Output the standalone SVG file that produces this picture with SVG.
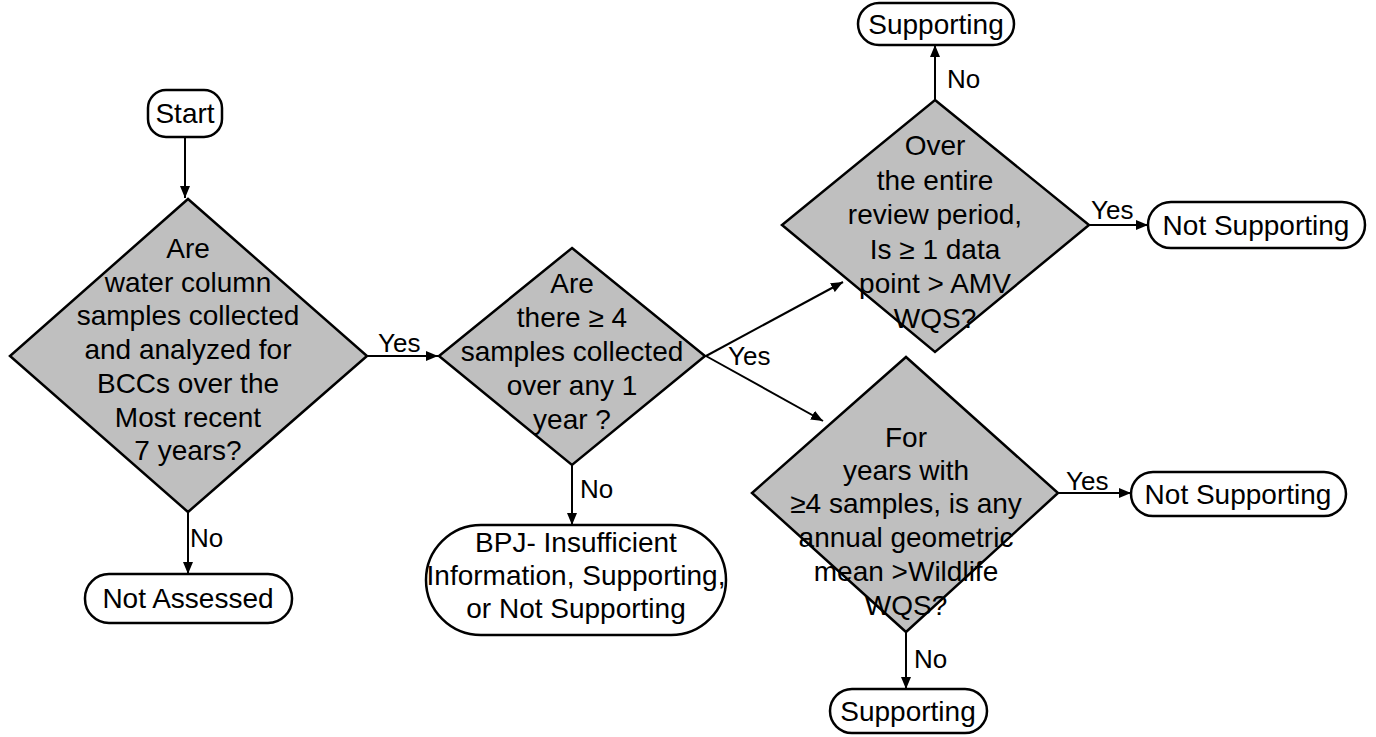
<svg xmlns="http://www.w3.org/2000/svg" width="1376" height="737" viewBox="0 0 1376 737">
<style>
text{font-family:"Liberation Sans",Arial,sans-serif;fill:#000}
.t{font-size:28px;text-anchor:middle}
.l{font-size:26px}
.term{fill:#fff;stroke:#000;stroke-width:2.5}
.dec{fill:#bfbfbf;stroke:#000;stroke-width:2.5}
.c{stroke:#000;stroke-width:2;fill:none;marker-end:url(#ah)}
</style>
<defs>
<marker id="ah" viewBox="0 0 12 10" refX="12" refY="5" markerWidth="12" markerHeight="10" markerUnits="userSpaceOnUse" orient="auto">
<path d="M0,0 L12,5 L0,10 z" fill="#000"/>
</marker>
</defs>
<rect width="1376" height="737" fill="#fff"/>
<g id="connectors">
<line class="c" x1="185" y1="137" x2="185" y2="198"/>
<line class="c" x1="367" y1="356" x2="438" y2="356"/>
<line class="c" x1="188" y1="512" x2="188" y2="574"/>
<line class="c" x1="572" y1="465" x2="572" y2="525"/>
<line class="c" x1="706" y1="356" x2="843" y2="282"/>
<line class="c" x1="706" y1="356" x2="823" y2="421"/>
<line class="c" x1="935" y1="100" x2="935" y2="45"/>
<line class="c" x1="1089" y1="225" x2="1148" y2="225"/>
<line class="c" x1="1058" y1="493" x2="1131" y2="493"/>
<line class="c" x1="906" y1="632" x2="906" y2="689"/>
<text class="l" x="378" y="352">Yes</text>
<text class="l" x="190" y="547">No</text>
<text class="l" x="580" y="498">No</text>
<text class="l" x="728" y="365">Yes</text>
<text class="l" x="947" y="88">No</text>
<text class="l" x="1091" y="219">Yes</text>
<text class="l" x="1066" y="490">Yes</text>
<text class="l" x="914" y="668">No</text>
</g>
<g id="start">
<rect class="term" x="148" y="90" width="74" height="47" rx="18"/>
<text class="t" x="185" y="123">Start</text>
</g>
<g id="d1">
<polygon class="dec" points="188,199 367,356 188,512 10,356"/>
<text class="t" x="188" y="258">Are</text>
<text class="t" x="188" y="292">water column</text>
<text class="t" x="188" y="325">samples collected</text>
<text class="t" x="188" y="359">and analyzed for</text>
<text class="t" x="188" y="393">BCCs over the</text>
<text class="t" x="188" y="427">Most recent</text>
<text class="t" x="188" y="460">7 years?</text>
</g>
<g id="notassessed">
<rect class="term" x="85" y="574" width="207" height="49" rx="24"/>
<text class="t" x="188" y="608">Not Assessed</text>
</g>
<g id="d2">
<polygon class="dec" points="572,248 705,356 572,465 439,356"/>
<text class="t" x="572" y="293">Are</text>
<text class="t" x="572" y="327">there ≥ 4</text>
<text class="t" x="572" y="361">samples collected</text>
<text class="t" x="572" y="395">over any 1</text>
<text class="t" x="572" y="429">year ?</text>
</g>
<g id="bpj">
<rect class="term" x="426" y="525" width="300" height="110" rx="55"/>
<text class="t" x="576" y="552">BPJ- Insufficient</text>
<text class="t" x="576" y="585">Information, Supporting,</text>
<text class="t" x="576" y="618">or Not Supporting</text>
</g>
<g id="d3">
<polygon class="dec" points="935,100 1089,225 935,352 782,225"/>
<text class="t" x="935" y="155">Over</text>
<text class="t" x="935" y="190">the entire</text>
<text class="t" x="935" y="224">review period,</text>
<text class="t" x="935" y="259">Is ≥ 1 data</text>
<text class="t" x="935" y="293">point &gt; AMV</text>
<text class="t" x="935" y="328">WQS?</text>
</g>
<g id="supporting1">
<rect class="term" x="858" y="3" width="156" height="42" rx="21"/>
<text class="t" x="936" y="34">Supporting</text>
</g>
<g id="notsupporting1">
<rect class="term" x="1148" y="202" width="217" height="46" rx="23"/>
<text class="t" x="1256" y="235">Not Supporting</text>
</g>
<g id="d4">
<polygon class="dec" points="906,357 1058,493 906,632 752,493"/>
<text class="t" x="906" y="447">For</text>
<text class="t" x="906" y="480">years with</text>
<text class="t" x="906" y="513">≥4 samples, is any</text>
<text class="t" x="906" y="547">annual geometric</text>
<text class="t" x="906" y="581">mean &gt;Wildlife</text>
<text class="t" x="906" y="615">WQS?</text>
</g>
<g id="notsupporting2">
<rect class="term" x="1131" y="472" width="215" height="44" rx="22"/>
<text class="t" x="1238" y="504">Not Supporting</text>
</g>
<g id="supporting2">
<rect class="term" x="830" y="689" width="157" height="44" rx="22"/>
<text class="t" x="908" y="721">Supporting</text>
</g>
</svg>
